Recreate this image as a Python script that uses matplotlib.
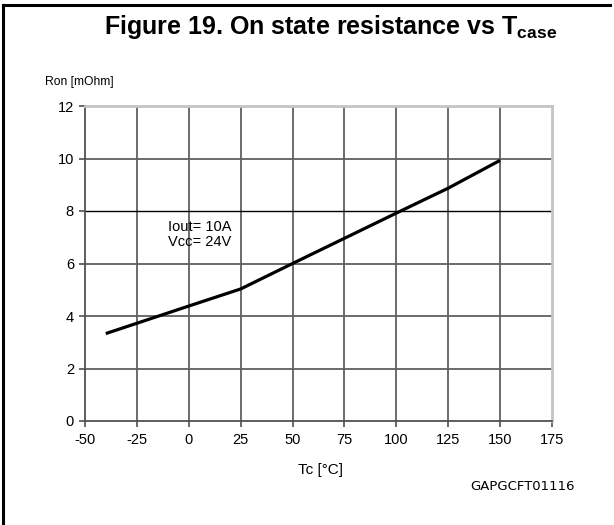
import matplotlib
matplotlib.use("Agg")
import matplotlib.pyplot as plt
from matplotlib.lines import Line2D

tc = [-40, 0, 25, 50, 75, 100, 125, 150]
ron = [3.33, 4.38, 5.03, 6.0, 6.96, 7.92, 8.87, 9.93]
xticks = [-50, -25, 0, 25, 50, 75, 100, 125, 150, 175]
yticks = [0, 2, 4, 6, 8, 10, 12]

plt.rcParams['font.family'] = ['Liberation Sans', 'DejaVu Sans']
plt.rcParams['mathtext.fontset'] = 'custom'
plt.rcParams['mathtext.rm'] = 'Liberation Sans'
plt.rcParams['mathtext.bf'] = 'Liberation Sans:bold'
plt.rcParams['mathtext.it'] = 'Liberation Sans:italic'

W, H = 614, 525
fig = plt.figure(figsize=(W/100, H/100), dpi=100)

def fx(px):
    return px / W

def fy(py):
    return 1 - py / H

ax = fig.add_axes([fx(85), fy(421), fx(552) - fx(85), fy(106) - fy(421)])
ax.set_xlim(-50, 175)
ax.set_ylim(0, 12)
ax.set_xticks(xticks)
ax.set_yticks(yticks)
ax.set_xticklabels([str(v) for v in xticks])
ax.set_yticklabels([str(v) for v in yticks])

for v in xticks[1:-1]:
    ax.axvline(v, color='#606060', lw=1.3, zorder=1)
for v in yticks[1:-1]:
    if v == 8:
        ax.axhline(v, color='black', lw=1.0, zorder=1)
    else:
        ax.axhline(v, color='#606060', lw=1.3, zorder=1)

ax.plot(tc, ron, color='black', lw=2.3, zorder=3, solid_capstyle='butt')

for s in ['top', 'right']:
    ax.spines[s].set_color('#c4c4c4')
    ax.spines[s].set_linewidth(2)
for s in ['left', 'bottom']:
    ax.spines[s].set_color('#505050')
    ax.spines[s].set_linewidth(1.3)
ax.tick_params(direction='out', length=4, width=1.2, color='#505050', labelsize=10.5)
ax.tick_params(axis='x', pad=5)
ax.tick_params(axis='y', pad=4)

ax.text(-10, 7.1, 'Iout= 10A\nVcc= 24V', fontsize=10.5, ha='left', va='center', linespacing=1.1)

fig.text(fx(331), fy(27), r'Figure 19. On state resistance vs T$_{\mathbf{case}}$',
         fontsize=18, fontweight='bold', ha='center', va='center')
fig.text(fx(45), fy(82), 'Ron [mOhm]', fontsize=8.7, ha='left', va='center')
fig.text(fx(320), fy(470), 'Tc [°C]', fontsize=11, ha='center', va='center')
fig.text(fx(470), fy(487), 'GAPGCFT01116', fontsize=9.5, ha='left', va='center', family='DejaVu Sans')

fig.add_artist(Line2D([fx(3), fx(610)], [fy(5), fy(5)], color='black', lw=2.2, transform=fig.transFigure))
fig.add_artist(Line2D([fx(3), fx(3)], [fy(5), fy(525)], color='black', lw=2.2, transform=fig.transFigure))

fig.savefig('out.png', dpi=100)
